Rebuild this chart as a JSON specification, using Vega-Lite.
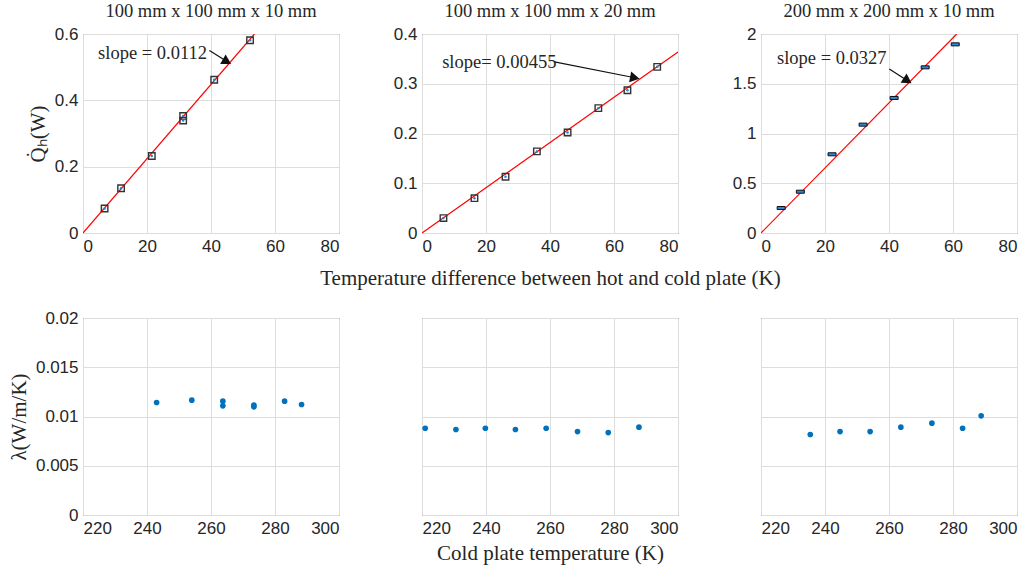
{
  "$schema": "https://vega.github.io/schema/vega-lite/v6.json",
  "background": "white",
  "padding": {"left": 7, "top": 1, "right": 5, "bottom": 5},
  "datasets": {
    "meas": [
      {"p": "A", "dT": 6.75, "Q": 0.074}, {"p": "A", "dT": 11.9, "Q": 0.135}, {"p": "A", "dT": 21.5, "Q": 0.232},
      {"p": "A", "dT": 31.3, "Q": 0.353}, {"p": "A", "dT": 31.3, "Q": 0.339}, {"p": "A", "dT": 41.0, "Q": 0.462},
      {"p": "A", "dT": 52.2, "Q": 0.581},
      {"p": "B", "dT": 6.7, "Q": 0.030}, {"p": "B", "dT": 16.4, "Q": 0.070}, {"p": "B", "dT": 26.1, "Q": 0.113},
      {"p": "B", "dT": 35.9, "Q": 0.164}, {"p": "B", "dT": 45.5, "Q": 0.202}, {"p": "B", "dT": 55.1, "Q": 0.251},
      {"p": "B", "dT": 64.2, "Q": 0.287}, {"p": "B", "dT": 73.5, "Q": 0.334},
      {"p": "C", "dT": 6.3, "Q": 0.251}, {"p": "C", "dT": 12.3, "Q": 0.415}, {"p": "C", "dT": 22.2, "Q": 0.791},
      {"p": "C", "dT": 31.9, "Q": 1.089}, {"p": "C", "dT": 41.6, "Q": 1.357}, {"p": "C", "dT": 51.3, "Q": 1.665},
      {"p": "C", "dT": 60.7, "Q": 1.896}
    ],
    "fit": [
      {"p": "A", "dT": 0, "Q": 0}, {"p": "A", "dT": 53.57, "Q": 0.6},
      {"p": "B", "dT": 0, "Q": 0}, {"p": "B", "dT": 80, "Q": 0.364},
      {"p": "C", "dT": 0, "Q": 0}, {"p": "C", "dT": 61.16, "Q": 2.0}
    ],
    "notes": [
      {"p": "A", "dT": 4.7, "Q": 0.543, "label": "slope = 0.0112"},
      {"p": "B", "dT": 6.3, "Q": 0.344, "label": "slope= 0.00455"},
      {"p": "C", "dT": 5.0, "Q": 1.76, "label": "slope = 0.0327"}
    ],
    "arrows": [
      {"p": "A", "dT0": 39.5, "Q0": 0.55, "dT": 45.0, "Q": 0.517},
      {"p": "B", "dT0": 41.4, "Q0": 0.344, "dT": 66.5, "Q": 0.312},
      {"p": "C", "dT0": 40.1, "Q0": 1.648, "dT": 45.8, "Q": 1.53}
    ],
    "lam": [
      {"p": "D", "T": 243.0, "lam": 0.01142}, {"p": "D", "T": 254.0, "lam": 0.01166}, {"p": "D", "T": 263.7, "lam": 0.01156},
      {"p": "D", "T": 263.7, "lam": 0.01108}, {"p": "D", "T": 273.4, "lam": 0.01115}, {"p": "D", "T": 273.4, "lam": 0.01098},
      {"p": "D", "T": 283.0, "lam": 0.01156}, {"p": "D", "T": 288.3, "lam": 0.01122},
      {"p": "E", "T": 221.0, "lam": 0.00881}, {"p": "E", "T": 230.6, "lam": 0.00868}, {"p": "E", "T": 239.8, "lam": 0.00881},
      {"p": "E", "T": 249.2, "lam": 0.00868}, {"p": "E", "T": 258.8, "lam": 0.00881}, {"p": "E", "T": 268.6, "lam": 0.00847},
      {"p": "E", "T": 278.2, "lam": 0.00837}, {"p": "E", "T": 287.8, "lam": 0.00892},
      {"p": "F", "T": 235.4, "lam": 0.00817}, {"p": "F", "T": 244.7, "lam": 0.00847}, {"p": "F", "T": 254.1, "lam": 0.00847},
      {"p": "F", "T": 263.7, "lam": 0.00892}, {"p": "F", "T": 273.4, "lam": 0.00932}, {"p": "F", "T": 283.0, "lam": 0.00881},
      {"p": "F", "T": 288.8, "lam": 0.01007}
    ]
  },
  "vconcat": [
    {
      "hconcat": [
        {
          "width": 256, "height": 199,
          "title": "100 mm x 100 mm x 10 mm",
          "encoding": {
            "x": {"field": "dT", "type": "quantitative", "scale": {"domain": [0, 80]}, "axis": {"values": [0, 20, 40, 60, 80], "title": null}},
            "y": {"field": "Q", "type": "quantitative", "scale": {"domain": [0, 0.6]}, "axis": {"values": [0, 0.2, 0.4, 0.6], "format": ".1~f", "title": "Q̇ₕ(W)", "titlePadding": 6}}
          },
          "layer": [
            {"data": {"name": "fit"}, "transform": [{"filter": "datum.p == 'A'"}], "mark": {"type": "line", "color": "#ff0000", "strokeWidth": 1.2, "clip": true}},
            {"data": {"name": "meas"}, "transform": [{"filter": "datum.p == 'A'"}], "mark": {"type": "point", "shape": "square", "size": 42, "filled": false, "color": "#333333", "strokeWidth": 1.4, "opacity": 1}},
            {"data": {"name": "meas"}, "transform": [{"filter": "datum.p == 'A'"}], "mark": {"type": "point", "shape": "circle", "size": 6, "filled": true, "color": "#1f7fd6", "opacity": 1}},
            {"data": {"name": "notes"}, "transform": [{"filter": "datum.p == 'A'"}], "mark": {"type": "text", "align": "left", "baseline": "middle", "font": "Liberation Serif", "fontSize": 18.5, "color": "#262626"}, "encoding": {"text": {"field": "label"}}},
            {"data": {"name": "arrows"}, "transform": [{"filter": "datum.p == 'A'"}], "mark": {"type": "rule", "color": "#111111", "strokeWidth": 1.2}, "encoding": {"x2": {"field": "dT0"}, "y2": {"field": "Q0"}}},
            {"data": {"name": "arrows"}, "transform": [{"filter": "datum.p == 'A'"}], "mark": {"type": "point", "shape": "triangle-right", "filled": true, "color": "#111111", "size": 120, "angle": 30, "opacity": 1}}
          ]
        },
        {
          "width": 256, "height": 199,
          "title": "100 mm x 100 mm x 20 mm",
          "encoding": {
            "x": {"field": "dT", "type": "quantitative", "scale": {"domain": [0, 80]}, "axis": {"values": [0, 20, 40, 60, 80], "title": "Temperature difference between hot and cold plate (K)", "titlePadding": 13}},
            "y": {"field": "Q", "type": "quantitative", "scale": {"domain": [0, 0.4]}, "axis": {"values": [0, 0.1, 0.2, 0.3, 0.4], "format": ".1~f", "title": null}}
          },
          "layer": [
            {"data": {"name": "fit"}, "transform": [{"filter": "datum.p == 'B'"}], "mark": {"type": "line", "color": "#ff0000", "strokeWidth": 1.2, "clip": true}},
            {"data": {"name": "meas"}, "transform": [{"filter": "datum.p == 'B'"}], "mark": {"type": "point", "shape": "square", "size": 42, "filled": false, "color": "#333333", "strokeWidth": 1.4, "opacity": 1}},
            {"data": {"name": "meas"}, "transform": [{"filter": "datum.p == 'B'"}], "mark": {"type": "point", "shape": "circle", "size": 6, "filled": true, "color": "#1f7fd6", "opacity": 1}},
            {"data": {"name": "notes"}, "transform": [{"filter": "datum.p == 'B'"}], "mark": {"type": "text", "align": "left", "baseline": "middle", "font": "Liberation Serif", "fontSize": 18.5, "color": "#262626"}, "encoding": {"text": {"field": "label"}}},
            {"data": {"name": "arrows"}, "transform": [{"filter": "datum.p == 'B'"}], "mark": {"type": "rule", "color": "#111111", "strokeWidth": 1.2}, "encoding": {"x2": {"field": "dT0"}, "y2": {"field": "Q0"}}},
            {"data": {"name": "arrows"}, "transform": [{"filter": "datum.p == 'B'"}], "mark": {"type": "point", "shape": "triangle-right", "filled": true, "color": "#111111", "size": 120, "angle": 11, "opacity": 1}}
          ]
        },
        {
          "width": 256, "height": 199,
          "title": "200 mm x 200 mm x 10 mm",
          "encoding": {
            "x": {"field": "dT", "type": "quantitative", "scale": {"domain": [0, 80]}, "axis": {"values": [0, 20, 40, 60, 80], "title": null}},
            "y": {"field": "Q", "type": "quantitative", "scale": {"domain": [0, 2]}, "axis": {"values": [0, 0.5, 1, 1.5, 2], "format": ".1~f", "title": null}}
          },
          "layer": [
            {"data": {"name": "fit"}, "transform": [{"filter": "datum.p == 'C'"}], "mark": {"type": "line", "color": "#ff0000", "strokeWidth": 1.2, "clip": true}},
            {"data": {"name": "meas"}, "transform": [{"filter": "datum.p == 'C'"}], "mark": {"type": "point", "shape": "M-1,-0.38L1,-0.38L1,0.38L-1,0.38Z", "size": 64, "filled": true, "fill": "#2a86d8", "stroke": "#111111", "strokeWidth": 1, "opacity": 1}},
            {"data": {"name": "notes"}, "transform": [{"filter": "datum.p == 'C'"}], "mark": {"type": "text", "align": "left", "baseline": "middle", "font": "Liberation Serif", "fontSize": 18.5, "color": "#262626"}, "encoding": {"text": {"field": "label"}}},
            {"data": {"name": "arrows"}, "transform": [{"filter": "datum.p == 'C'"}], "mark": {"type": "rule", "color": "#111111", "strokeWidth": 1.2}, "encoding": {"x2": {"field": "dT0"}, "y2": {"field": "Q0"}}},
            {"data": {"name": "arrows"}, "transform": [{"filter": "datum.p == 'C'"}], "mark": {"type": "point", "shape": "triangle-right", "filled": true, "color": "#111111", "size": 120, "angle": 33, "opacity": 1}}
          ]
        }
      ],
      "spacing": 83,
      "bounds": "flush"
    },
    {
      "hconcat": [
        {
          "width": 256, "height": 197,
          "data": {"name": "lam"},
          "transform": [{"filter": "datum.p == 'D'"}],
          "mark": {"type": "circle", "size": 32, "color": "#0072BD", "opacity": 1},
          "encoding": {
            "x": {"field": "T", "type": "quantitative", "scale": {"domain": [220, 300]}, "axis": {"values": [220, 240, 260, 280, 300], "title": null}},
            "y": {"field": "lam", "type": "quantitative", "scale": {"domain": [0, 0.02]}, "axis": {"values": [0, 0.005, 0.01, 0.015, 0.02], "format": ".3~f", "title": "λ(W/m/K)", "titlePadding": 6}}
          }
        },
        {
          "width": 256, "height": 197,
          "data": {"name": "lam"},
          "transform": [{"filter": "datum.p == 'E'"}],
          "mark": {"type": "circle", "size": 32, "color": "#0072BD", "opacity": 1},
          "encoding": {
            "x": {"field": "T", "type": "quantitative", "scale": {"domain": [220, 300]}, "axis": {"values": [220, 240, 260, 280, 300], "title": "Cold plate temperature (K)", "titlePadding": 6}},
            "y": {"field": "lam", "type": "quantitative", "scale": {"domain": [0, 0.02]}, "axis": {"values": [0, 0.005, 0.01, 0.015, 0.02], "labels": false, "title": null}}
          }
        },
        {
          "width": 256, "height": 197,
          "data": {"name": "lam"},
          "transform": [{"filter": "datum.p == 'F'"}],
          "mark": {"type": "circle", "size": 32, "color": "#0072BD", "opacity": 1},
          "encoding": {
            "x": {"field": "T", "type": "quantitative", "scale": {"domain": [220, 300]}, "axis": {"values": [220, 240, 260, 280, 300], "title": null}},
            "y": {"field": "lam", "type": "quantitative", "scale": {"domain": [0, 0.02]}, "axis": {"values": [0, 0.005, 0.01, 0.015, 0.02], "labels": false, "title": null}}
          }
        }
      ],
      "spacing": 83,
      "bounds": "flush"
    }
  ],
  "spacing": 19,
  "config": {
    "view": {"stroke": "#4d4d4d", "strokeWidth": 1},
    "axis": {
      "labelFont": "Liberation Sans", "labelFontSize": 17, "labelColor": "#262626", "labelPadding": 5,
      "titleFont": "Liberation Serif", "titleFontSize": 21, "titleFontWeight": "normal", "titleColor": "#262626",
      "grid": true, "gridColor": "#dddddd", "domain": false, "ticks": false
    },
    "title": {"font": "Liberation Serif", "fontSize": 18.5, "fontWeight": "normal", "color": "#262626", "offset": 5}
  }
}
